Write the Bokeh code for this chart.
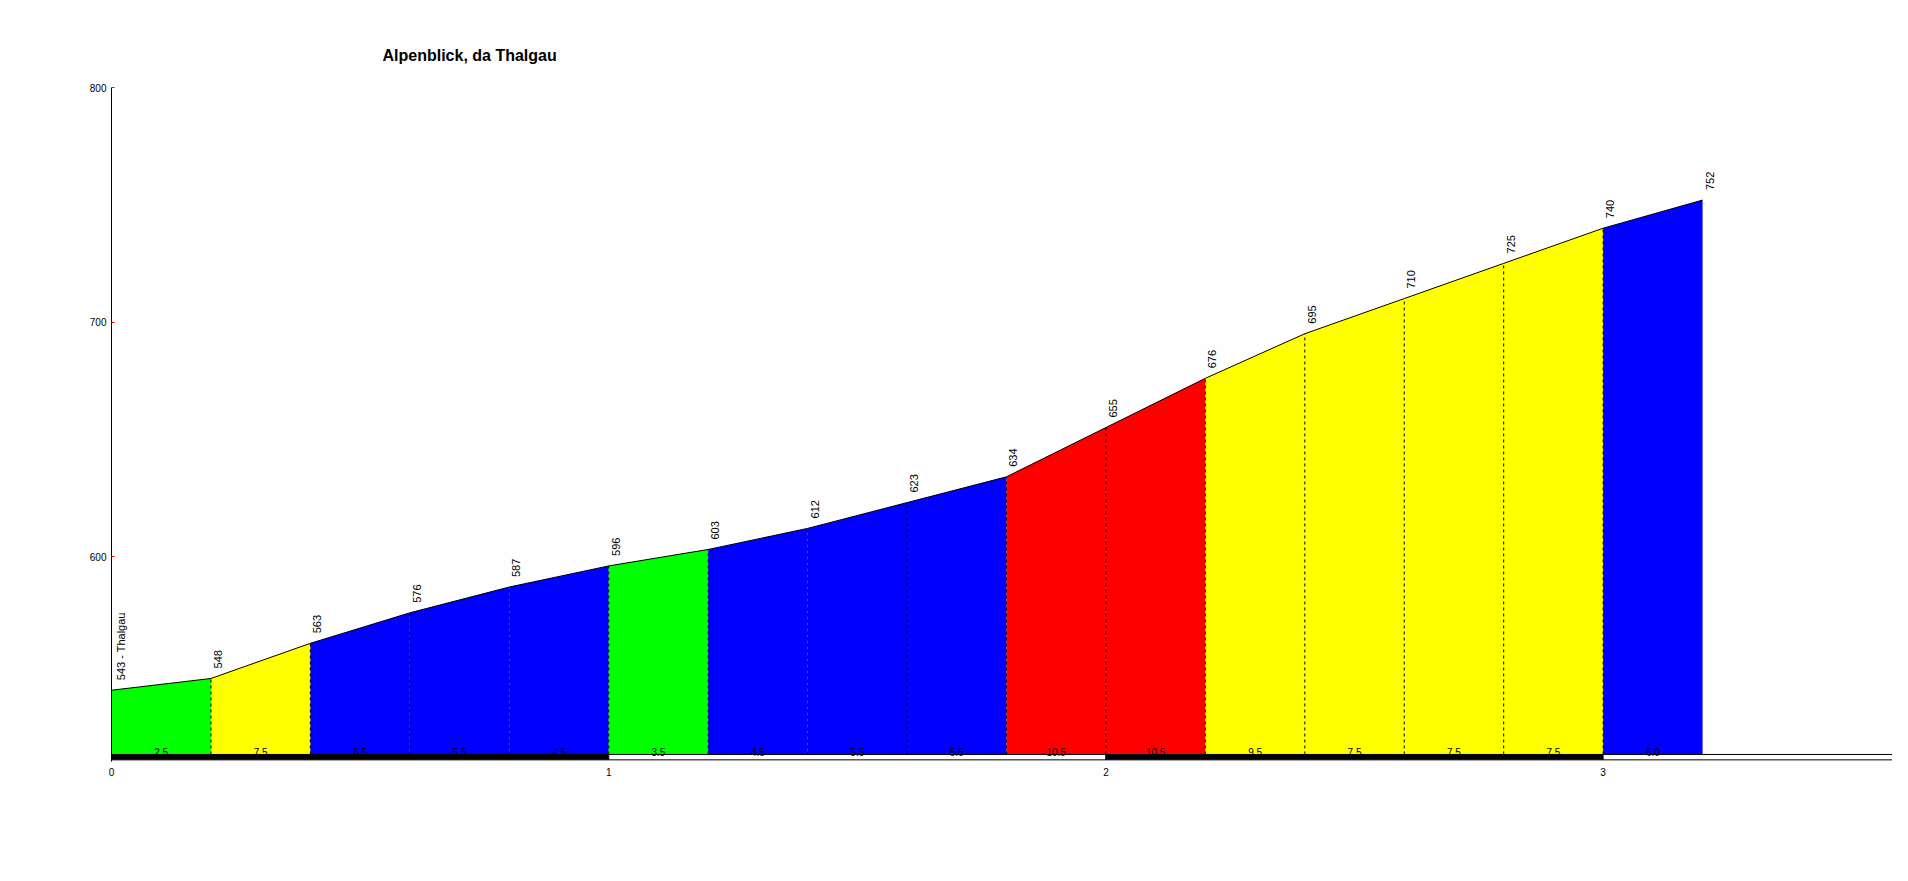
import numpy as np
from bokeh.plotting import figure
from bokeh.models import ColumnDataSource, Range1d, LinearAxis, FixedTicker, Title
from bokeh.core.properties import value
from bokeh.embed import file_html
from bokeh.resources import INLINE

# ---- data ----
title_text = "Alpenblick, da Thalgau"
start_name = "Thalgau"
km = [0.0, 0.2, 0.4, 0.6, 0.8, 1.0, 1.2, 1.4, 1.6, 1.8, 2.0, 2.2, 2.4, 2.6, 2.8, 3.0, 3.2]
elev = [543, 548, 563, 576, 587, 596, 603, 612, 623, 634, 655, 676, 695, 710, 725, 740, 752]
grade = [2.5, 7.5, 6.5, 5.5, 4.5, 3.5, 4.5, 5.5, 5.5, 10.5, 10.5, 9.5, 7.5, 7.5, 7.5, 6.0]
km_ticks = [0, 1, 2, 3]
y_ticks = [600, 700, 800]

# ---- layout / style ----
FONT = "Liberation Sans"
BG = "#FDFEFD"
X_END = 3.582
Y_START, Y_END = 512.6, 800
BASE = 515.6
BAR_BOTTOM = 513.3


def grade_color(g):
    if g < 4:
        return "#00FF00"
    if g < 7:
        return "#0000FF"
    if g < 10:
        return "#FFFF00"
    return "#FF0000"


p = figure(width=1892, height=865, x_range=Range1d(0, X_END), y_range=Range1d(Y_START, Y_END),
           output_backend="svg", toolbar_location=None,
           x_axis_location=None, y_axis_location=None,
           min_border_left=111, min_border_right=0, min_border_top=87, min_border_bottom=104)
p.background_fill_color = BG
p.border_fill_color = BG
p.outline_line_color = None
p.xgrid.grid_line_color = None
p.ygrid.grid_line_color = None

p.title = Title(text=title_text, align="left", offset=271, standoff=47,
                text_font=FONT, text_font_size="16px", text_font_style="bold", text_color="black")

# segment fills
n = len(grade)
seg = ColumnDataSource(dict(
    xs=[[km[i], km[i], km[i + 1], km[i + 1]] for i in range(n)],
    ys=[[BASE, elev[i], elev[i + 1], BASE] for i in range(n)],
    color=[grade_color(g) for g in grade],
))
p.patches("xs", "ys", source=seg, fill_color="color", line_color=None)

# dashed separators
p.segment(x0=km[1:-1], y0=[BASE] * (len(km) - 2), x1=km[1:-1], y1=elev[1:-1],
          line_color="black", line_width=1, line_dash="3 3")

# profile outline
p.line(km, elev, line_color="black", line_width=1)

# km bar
lefts = km_ticks
rights = km_ticks[1:] + [X_END + 0.1]
bar_colors = ["black" if i % 2 == 0 else "white" for i in range(len(lefts))]
p.quad(left=lefts, right=rights, bottom=BAR_BOTTOM, top=BASE,
       fill_color=bar_colors, line_color="black", line_width=1)

# elevation labels
labels = [f"{elev[0]} - {start_name}"] + [str(e) for e in elev[1:]]
p.text(x=km, y=elev, text=labels, angle=np.pi / 2, text_align="left", text_baseline="top",
       x_offset=3, y_offset=-10, text_font=value(FONT), text_font_size="11px", text_color="black")

# gradient labels
mids = [(km[i] + km[i + 1]) / 2 for i in range(n)]
p.text(x=mids, y=[BASE] * n, text=[f"{g:.1f}" for g in grade], text_align="center",
       text_baseline="alphabetic", y_offset=-2, text_font=value(FONT), text_font_size="10px",
       text_color="black")

# axes
yaxis = LinearAxis(ticker=FixedTicker(ticks=y_ticks))
yaxis.axis_line_color = "black"
yaxis.major_tick_in = 3
yaxis.major_tick_out = 0
yaxis.major_tick_line_color = "red"
yaxis.minor_tick_line_color = None
yaxis.major_label_standoff = 5
yaxis.major_label_text_font = FONT
yaxis.major_label_text_font_size = "10px"
yaxis.major_label_text_color = "black"
p.add_layout(yaxis, "left")

xaxis = LinearAxis(ticker=FixedTicker(ticks=km_ticks))
xaxis.axis_line_color = None
xaxis.major_tick_line_color = None
xaxis.minor_tick_line_color = None
xaxis.major_tick_in = 0
xaxis.major_tick_out = 0
xaxis.major_label_standoff = 6
xaxis.major_label_text_font = FONT
xaxis.major_label_text_font_size = "10px"
xaxis.major_label_text_color = "black"
p.add_layout(xaxis, "below")

open("out.html", "w").write(file_html(p, INLINE))
